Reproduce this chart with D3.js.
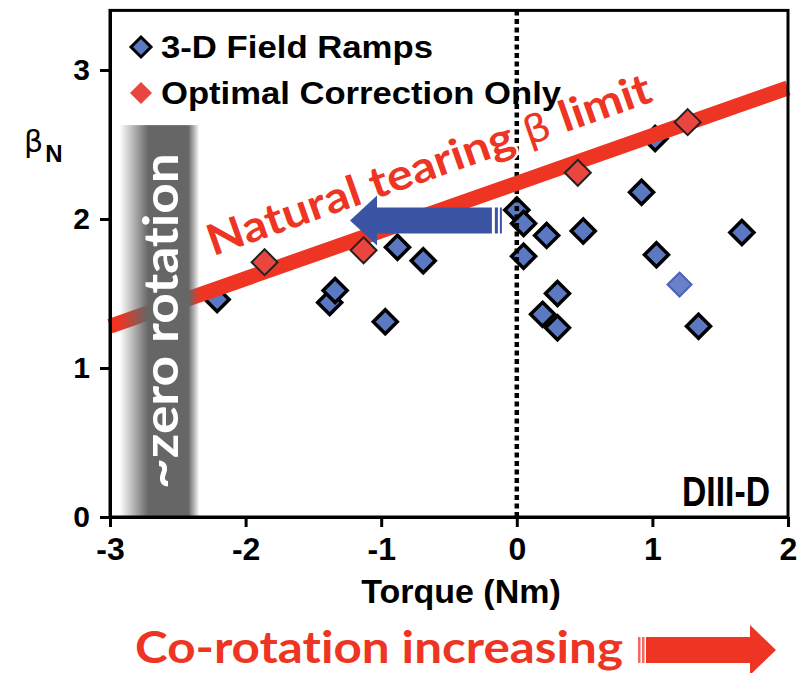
<!DOCTYPE html>
<meta charset="utf-8">
<style>
    body {
        margin: 0;
        background: #fff;
    }

    .axis text {
        font: bold 30px "Liberation Sans", Arial, sans-serif;
        fill: #000;
    }

    .axis path,
    .axis line {
        stroke: #000;
        stroke-width: 3px;
    }

    .label {
        font-family: "Liberation Sans", Arial, sans-serif;
        font-weight: bold;
        fill: #000;
    }

    .note {
        font-family: Lato, "DejaVu Sans", sans-serif;
        font-weight: bold;
        font-variant-ligatures: none;
        font-feature-settings: "liga" 0, "dlig" 0;
    }
</style>
<script src="https://d3js.org/d3.v7.min.js"></script>

<div id="chart"></div>

<script>
// tick labels
var torqueTicks = [-3, -2, -1, 0, 1, 2];
var betaTicks = [0, 1, 2, 3];

// 3-D field ramps (blue diamonds)
var rampTorque = [-2.21, -1.38, -1.34, -0.97, -0.88, -0.69, 0.00, 0.05, 0.22, 0.49, 0.05, 0.30, 0.19, 0.30, 0.92, 1.03, 1.66, 1.34, 1.02];
var rampBeta   = [ 1.46,  1.44,  1.52,  1.31,  1.81,  1.72, 2.06, 1.97, 1.89, 1.92, 1.75, 1.50, 1.36, 1.27, 2.18, 1.76, 1.91, 1.28, 2.54];

// the one pale ramp point without outline
var paleTorque = [1.20];
var paleBeta = [1.56];

// optimal correction only (red diamonds)
var optTorque = [-1.86, -1.13, 0.45, 1.26];
var optBeta   = [ 1.71,  1.79, 2.31, 2.65];

// natural tearing beta limit
var limitTorque = [-3, 2];
var limitBeta = [1.28, 2.88];

var width = 807,
    height = 673,
    left = 110,
    right = 788,
    bottom = 517;

var red = "#ee3524",
    blue = "#5b78c2",
    arrowBlue = "#3b55a4";

var svg = d3.select("#chart").append("svg")
    .attr("width", width)
    .attr("height", height);

var x = d3.scaleLinear().domain([-3, 2]).range([left, right]);
var y = d3.scaleLinear().domain([0, 3.4]).range([bottom, bottom - 3.4 * 149]);

function diamond(r) {
    return "M0," + (-r) + "L" + r + ",0L0," + r + "L" + (-r) + ",0Z";
}

var defs = svg.append("defs");
var grad = defs.append("linearGradient").attr("id", "band")
    .attr("x1", "0%").attr("x2", "100%").attr("y1", "0%").attr("y2", "0%");
grad.append("stop").attr("offset", "0%").attr("stop-color", "#666").attr("stop-opacity", 0);
grad.append("stop").attr("offset", "36%").attr("stop-color", "#666").attr("stop-opacity", 1);
grad.append("stop").attr("offset", "86%").attr("stop-color", "#666").attr("stop-opacity", 1);
grad.append("stop").attr("offset", "100%").attr("stop-color", "#666").attr("stop-opacity", 0);

// blue points
svg.append("g").selectAll("path")
    .data(d3.range(rampTorque.length))
    .enter().append("path")
    .attr("d", diamond(12))
    .attr("transform", function (i) { return "translate(" + x(rampTorque[i]) + "," + y(rampBeta[i]) + ")"; })
    .style("fill", blue)
    .style("stroke", "#000")
    .style("stroke-width", 3.5);

svg.append("g").selectAll("path")
    .data(d3.range(paleTorque.length))
    .enter().append("path")
    .attr("d", diamond(12))
    .attr("transform", function (i) { return "translate(" + x(paleTorque[i]) + "," + y(paleBeta[i]) + ")"; })
    .style("fill", "#6a80c8")
    .style("stroke", "#4b62b8")
    .style("stroke-width", 2);

// zero torque
svg.append("line")
    .attr("x1", x(0)).attr("x2", x(0))
    .attr("y1", y(3.4)).attr("y2", y(0))
    .style("stroke", "#000")
    .style("stroke-width", 4.5)
    .style("stroke-dasharray", "5,3.5");

// tearing limit line
svg.append("line")
    .attr("x1", x(limitTorque[0])).attr("y1", y(limitBeta[0]))
    .attr("x2", x(limitTorque[1])).attr("y2", y(limitBeta[1]))
    .style("stroke", red)
    .style("stroke-width", 15);

// red points
svg.append("g").selectAll("path")
    .data(d3.range(optTorque.length))
    .enter().append("path")
    .attr("d", diamond(13))
    .attr("transform", function (i) { return "translate(" + x(optTorque[i]) + "," + y(optBeta[i]) + ")"; })
    .style("fill", "#e8463f")
    .style("stroke", "#222")
    .style("stroke-width", 2);

// ~zero rotation band
svg.append("rect")
    .attr("x", x(-2.93))
    .attr("width", x(-2.34) - x(-2.93))
    .attr("y", y(2.63))
    .attr("height", y(0) - y(2.63))
    .style("fill", "url(#band)");

svg.append("text")
    .attr("class", "note")
    .attr("transform", "translate(178," + ((y(2.63) + y(0)) / 2) + ") rotate(-90)")
    .attr("text-anchor", "middle")
    .attr("textLength", 336)
    .attr("lengthAdjust", "spacingAndGlyphs")
    .style("font-size", "48px")
    .style("fill", "#fff")
    .text("~zero rotation");

// label along the limit line
var ang = Math.atan2(y(limitBeta[1]) - y(limitBeta[0]), x(limitTorque[1]) - x(limitTorque[0])) * 180 / Math.PI;
var tear = svg.append("text")
    .attr("class", "note")
    .attr("transform", "translate(" + x(-2.24) + "," + y(1.75) + ") rotate(" + ang + ")")
    .attr("textLength", 468)
    .attr("lengthAdjust", "spacingAndGlyphs")
    .style("font-size", "43px")
    .style("fill", red)
    .style("stroke", "#fff")
    .style("stroke-width", 4)
    .style("paint-order", "stroke");
tear.append("tspan").text("Natural tearing ");
tear.append("tspan").style("font-weight", "normal").style("font-family", "'DejaVu Sans', sans-serif")
    .style("font-size", "38px").text("β");
tear.append("tspan").text(" limit");

// blue arrow pointing to lower torque
var ay = y(1.99), tipX = x(-1.23), tailX = x(-0.11);
var sh = 13, hh = 25, hl = 27;
svg.append("path")
    .attr("d", "M" + tipX + "," + ay +
        "L" + (tipX + hl) + "," + (ay - hh) +
        "L" + (tipX + hl) + "," + (ay - sh) +
        "L" + (tailX - 10) + "," + (ay - sh) +
        "L" + (tailX - 10) + "," + (ay + sh) +
        "L" + (tipX + hl) + "," + (ay + sh) +
        "L" + (tipX + hl) + "," + (ay + hh) + "Z")
    .style("fill", arrowBlue);
svg.append("rect").attr("x", tailX - 7).attr("y", ay - sh).attr("width", 3).attr("height", 2 * sh).style("fill", arrowBlue);
svg.append("rect").attr("x", tailX - 2).attr("y", ay - sh).attr("width", 2).attr("height", 2 * sh).style("fill", arrowBlue);

// axes and frame
svg.append("g")
    .attr("class", "axis")
    .attr("transform", "translate(0," + bottom + ")")
    .call(d3.axisBottom(x).tickValues(torqueTicks).tickSize(10).tickSizeOuter(0).tickPadding(10)
        .tickFormat(function (d) { return String(d); }))
    .selectAll("text").style("font-size", "32px");

svg.append("g")
    .attr("class", "axis")
    .attr("transform", "translate(" + left + ",0)")
    .call(d3.axisLeft(y).tickValues(betaTicks).tickSize(10).tickSizeOuter(0).tickPadding(10)
        .tickFormat(function (d) { return String(d); }))
    .selectAll("text").style("font-size", "30px");

svg.append("rect")
    .attr("x", left).attr("y", y(3.4))
    .attr("width", right - left).attr("height", bottom - y(3.4))
    .style("fill", "none")
    .style("stroke", "#000")
    .style("stroke-width", 3);

// legend
svg.append("path").attr("d", diamond(10)).attr("transform", "translate(141,47)")
    .style("fill", blue).style("stroke", "#000").style("stroke-width", 3);
svg.append("text").attr("class", "label").attr("x", 161).attr("y", 58)
    .attr("textLength", 272).attr("lengthAdjust", "spacingAndGlyphs")
    .style("font-size", "32px").text("3-D Field Ramps");
svg.append("path").attr("d", diamond(11)).attr("transform", "translate(141,93)")
    .style("fill", "#e8463f");
svg.append("text").attr("class", "label").attr("x", 161).attr("y", 104)
    .attr("textLength", 400).attr("lengthAdjust", "spacingAndGlyphs")
    .style("font-size", "32px").text("Optimal Correction Only");

// axis titles
svg.append("text").attr("class", "label").attr("x", 461).attr("y", 603)
    .attr("text-anchor", "middle").style("font-size", "34px").text("Torque (Nm)");

var bn = svg.append("text").attr("x", 24).attr("y", 152)
    .style("font-family", "'DejaVu Sans', sans-serif");
bn.append("tspan").style("font-size", "30px").text("β");
bn.append("tspan").attr("class", "label").attr("dy", 10).attr("dx", 2)
    .style("font-size", "24px").text("N");

svg.append("text").attr("x", 770).attr("y", 506)
    .attr("text-anchor", "end")
    .attr("textLength", 88)
    .attr("lengthAdjust", "spacingAndGlyphs")
    .style("font-family", "'Liberation Sans Narrow', 'Liberation Sans', Arial, sans-serif")
    .style("font-weight", "bold")
    .style("font-size", "42px")
    .text("DIII-D");

// co-rotation arrow under the chart
svg.append("text").attr("class", "note")
    .attr("x", 135).attr("y", 663)
    .attr("textLength", 488)
    .attr("lengthAdjust", "spacingAndGlyphs")
    .style("font-size", "44px")
    .style("fill", red)
    .text("Co-rotation increasing");

svg.append("path")
    .attr("d", "M646,637L750,637L750,625L776,650L750,675L750,663L646,663Z")
    .style("fill", red);
svg.append("rect").attr("x", 638).attr("y", 637).attr("width", 2.5).attr("height", 26).style("fill", "#f26a5e");
svg.append("rect").attr("x", 642).attr("y", 637).attr("width", 2.5).attr("height", 26).style("fill", "#f26a5e");
</script>
